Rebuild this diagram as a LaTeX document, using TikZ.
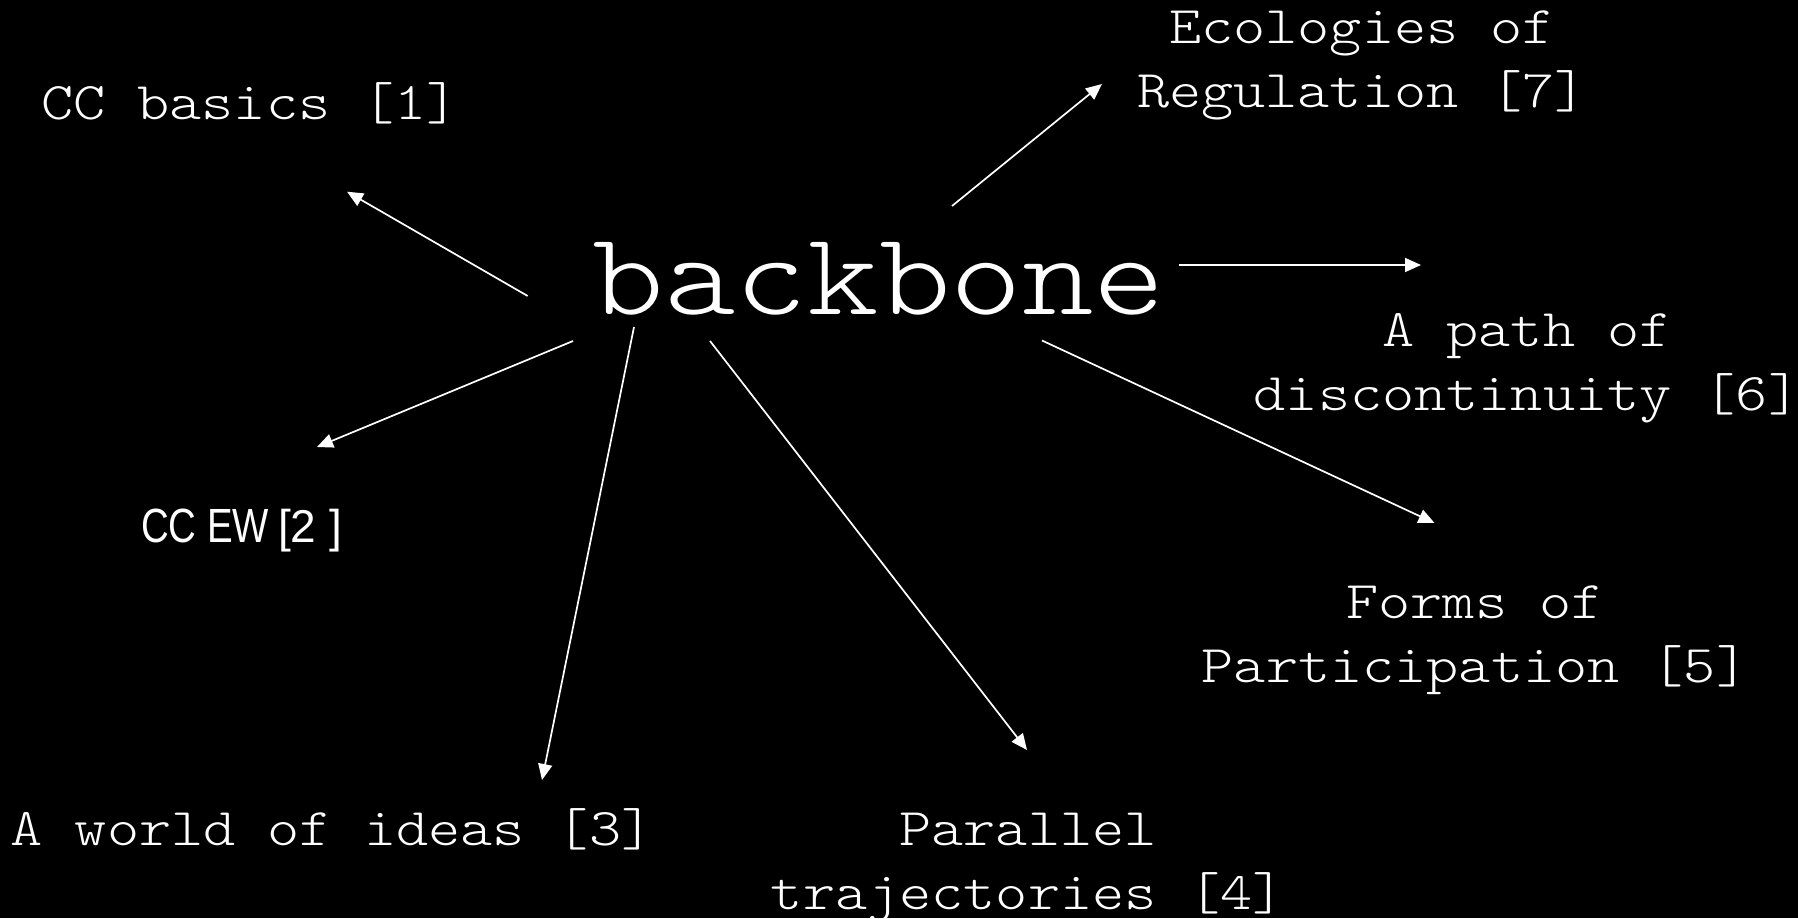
\documentclass[tikz,border=0pt]{standalone}
\usepackage{fontspec}
\usetikzlibrary{arrows.meta}
\newfontfamily\courfont[FakeStretch=1.155]{Latin Modern Mono Light}
\newfontfamily\ewfont[FakeStretch=0.8]{Liberation Sans}
\newfontfamily\arialfont{Liberation Sans}
\tikzset{
  lbl/.style={text=white, inner sep=0pt, align=center, anchor=base,
    font=\courfont\fontsize{53}{64}\selectfont},
  arr/.style={draw=white, line width=1.7pt, -{Triangle[length=16pt,width=14pt]}}
}
\begin{document}
\begin{tikzpicture}[x=1pt,y=-1pt]
\fill[black] (0,0) rectangle (1798,918);
\useasboundingbox (0,0) rectangle (1798,918);

\node[lbl, font=\courfont\fontsize{118}{130}\selectfont] (bb) at (879,314) {backbone};
\node[lbl] (n1) at (250,119) {CC basics [1]};
\node[lbl, anchor=base west] (n2) at (141,542) {{\ewfont\fontsize{48}{56}\selectfont CC EW}\,{\arialfont\fontsize{46}{56}\selectfont [2 ]}};
\node[lbl] (n3) at (332,845) {A world of ideas [3]};
\node[lbl] (n4) at (1028,909) {Parallel\\trajectories [4]};
\node[lbl] (n5) at (1475,682) {Forms of\\Participation [5]};
\node[lbl] (n6) at (1527,410.5) {A path of\\discontinuity [6]};
\node[lbl] (n7) at (1362,107) {Ecologies of\\Regulation [7]};

\coordinate (s1) at (527.7,296);  \coordinate (t1) at (347,191.7);
\coordinate (s2) at (573,341);    \coordinate (t2) at (317,447);
\coordinate (s3) at (634,327);    \coordinate (t3) at (542,780);
\coordinate (s4) at (710,341);    \coordinate (t4) at (1027,750);
\coordinate (s5) at (1042,340.5); \coordinate (t5) at (1434.5,523);
\coordinate (s6) at (1179,265);   \coordinate (t6) at (1421,265);
\coordinate (s7) at (952,206);    \coordinate (t7) at (1102,84);

\draw[arr] (s1) -- (t1);
\draw[arr] (s2) -- (t2);
\draw[arr] (s3) -- (t3);
\draw[arr] (s4) -- (t4);
\draw[arr] (s5) -- (t5);
\draw[arr] (s6) -- (t6);
\draw[arr] (s7) -- (t7);
\end{tikzpicture}
\end{document}
